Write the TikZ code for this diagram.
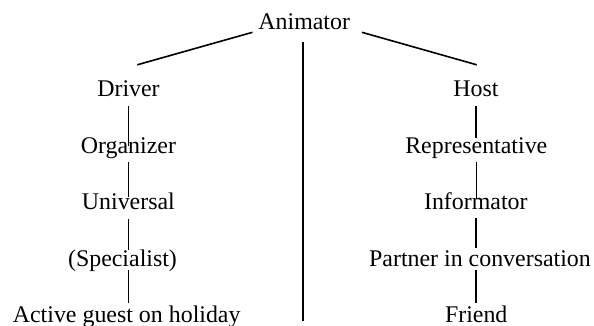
\documentclass[tikz,border=0pt]{standalone}
\usepackage{fontspec}
\setmainfont{Liberation Serif}
\usetikzlibrary{calc}
\tikzset{
  lbl/.style={anchor=base, inner sep=0pt, text height=16pt, text depth=5pt,
              font=\fontsize{23.9pt}{28pt}\selectfont},
  link/.style={line width=1.6pt, black}
}
\begin{document}
\begin{tikzpicture}[x=1pt, y=-1pt]
\useasboundingbox (0,0) rectangle (594,326);
% nodes
\node[lbl] (Animator) at (304.2,29.3) {Animator};
\node[lbl] (Driver) at (128.5,96.7) {Driver};
\node[lbl] (Organizer) at (128.4,153.15) {Organizer};
\node[lbl] (Universal) at (128.4,209.6) {Universal};
\node[lbl] (Specialist) at (122.5,266.05) {(Specialist)};
\node[lbl] (Active) at (126.7,322.3) {Active guest on holiday};
\node[lbl] (Host) at (476,96.7) {Host};
\node[lbl] (Representative) at (476.3,153.15) {Representative};
\node[lbl] (Informator) at (475.8,209.6) {Informator};
\node[lbl] (Partner) at (480,266.05) {Partner in conversation};
\node[lbl] (Friend) at (476.2,322.3) {Friend};
% connector end points
\coordinate (aL) at ($(Animator.base west)+(-5.7,3)$);
\coordinate (aR) at ($(Animator.base east)+(11.7,3)$);
\coordinate (dT) at ($(Driver.north)+(8.8,-15.7)$);
\coordinate (hT) at ($(Host.north)+(0.7,-15.7)$);
\coordinate (tTop) at ($(Animator.south)+(-1.5,7.4)$);
\coordinate (tBot) at (302.7,321);
% top connectors
\draw[link] (aL) -- (dT);
\draw[link] (aR) -- (hT);
\draw[link] (tTop) -- (tBot);
% left column
\draw[link, shorten <=4pt, shorten >=-9.5pt] (Driver.south) -- (Driver.south |- Organizer.north);
\draw[link, shorten <=3.5pt, shorten >=-3.1pt] (Organizer.south) -- (Organizer.south |- Universal.north);
\draw[link, shorten <=4.4pt] (Universal.south) -- (Universal.south |- Specialist.north);
\draw[link, shorten <=-1pt, shorten >=3.2pt] (Specialist.south -| Universal.south) -- (Universal.south |- Active.north);
% right column
\draw[link, shorten <=4pt, shorten >=-1.2pt] (Host.south) -- (Host.south |- Representative.north);
\draw[link, shorten <=3.5pt, shorten >=-5.7pt] (Representative.south) -- (Representative.south |- Informator.north);
\draw[link, shorten <=3.1pt, shorten >=1.7pt] (Informator.south) -- (Informator.south |- Partner.north);
\draw[link, shorten <=-1pt, shorten >=3.2pt] (Partner.south -| Friend.north) -- (Friend.north);
\end{tikzpicture}
\end{document}
